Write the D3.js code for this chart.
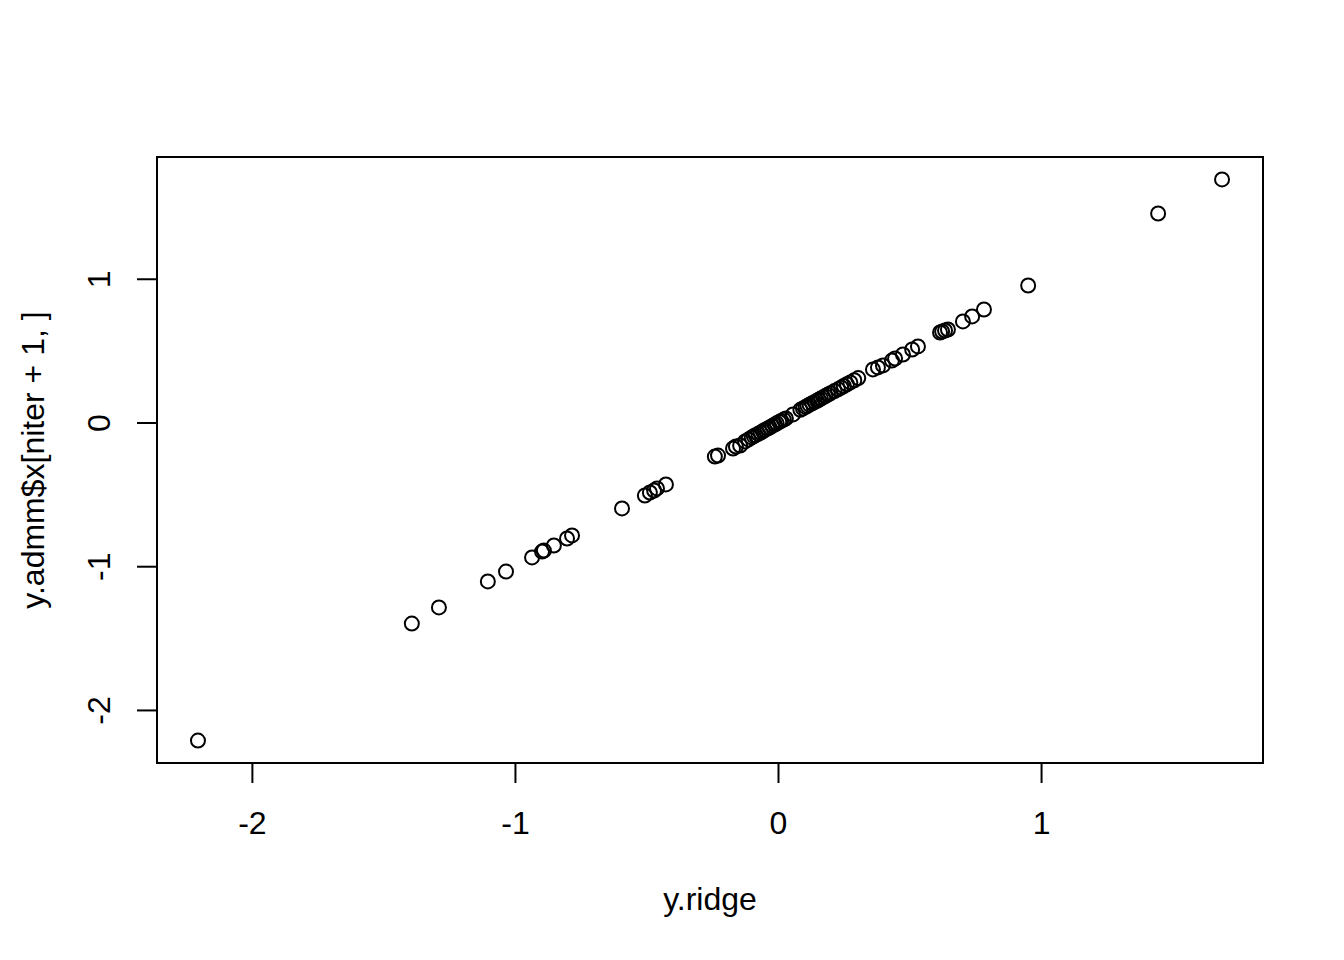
<!DOCTYPE html>
<html>
<head>
<meta charset="utf-8">
<script src="https://cdn.jsdelivr.net/npm/d3@7"></script>
<style>
  body { margin: 0; background: #fff; }
  text { font-family: "Liberation Sans", Arial, Helvetica, sans-serif; }
</style>
</head>
<body>
<div id="chart"></div>
<script>
// values (x = y.ridge, y = y.admm$x[niter + 1, ])
const y_ridge = [
  -2.205, -1.392, -1.289, -1.103, -1.034, -0.935, -0.897, -0.890, -0.852, -0.802,
  -0.783, -0.593, -0.506, -0.487, -0.471, -0.460, -0.426, -0.240, -0.228, -0.171,
  -0.160, -0.144, -0.125, -0.112, -0.100, -0.092, -0.085, -0.075, -0.066, -0.058,
  -0.050, -0.040, -0.032, -0.022, -0.012, -0.005, 0.005, 0.012, 0.022, 0.030,
  0.057, 0.085, 0.095, 0.105, 0.112, 0.120, 0.130, 0.140, 0.148, 0.155,
  0.163, 0.172, 0.180, 0.190, 0.200, 0.215, 0.228, 0.240, 0.250, 0.262,
  0.275, 0.290, 0.305, 0.361, 0.380, 0.399, 0.433, 0.445, 0.475, 0.510,
  0.532, 0.616, 0.624, 0.635, 0.646, 0.703, 0.738, 0.783, 0.951, 1.445,
  1.688
];
const y_admm = [
  -2.213, -1.399, -1.287, -1.106, -1.037, -0.939, -0.898, -0.891, -0.856, -0.807,
  -0.786, -0.598, -0.508, -0.487, -0.473, -0.459, -0.431, -0.237, -0.230, -0.181,
  -0.167, -0.160, -0.132, -0.118, -0.104, -0.095, -0.088, -0.079, -0.070, -0.061,
  -0.052, -0.043, -0.035, -0.024, -0.014, -0.006, 0.004, 0.011, 0.020, 0.028,
  0.056, 0.088, 0.098, 0.108, 0.115, 0.124, 0.134, 0.143, 0.151, 0.158,
  0.167, 0.176, 0.184, 0.194, 0.204, 0.219, 0.231, 0.243, 0.254, 0.266,
  0.279, 0.294, 0.309, 0.369, 0.383, 0.397, 0.431, 0.445, 0.473, 0.508,
  0.529, 0.626, 0.633, 0.640, 0.647, 0.703, 0.738, 0.786, 0.953, 1.454,
  1.691
];
const x_ticks = [-2, -1, 0, 1];
const y_ticks = [-2, -1, 0, 1];
const x_title = 'y.ridge';
const y_title = 'y.admm$x[niter + 1, ]';

const chart_width = 1344;
const chart_height = 960;
const margin = {top: 157, right: 81, bottom: 197, left: 157};
const font_size = 32;
const tick_len = 20;

const svg = d3.select('#chart')
    .append('svg')
    .attr('width', chart_width)
    .attr('height', chart_height);

// R style range: data extent padded by 4% each side
function pad(ext) {
    const d = (ext[1] - ext[0]) * 0.04;
    return [ext[0] - d, ext[1] + d];
}

const x_scale = d3.scaleLinear()
    .domain(pad(d3.extent(y_ridge)))
    .range([margin.left, chart_width - margin.right]);

const y_scale = d3.scaleLinear()
    .domain(pad(d3.extent(y_admm)))
    .range([chart_height - margin.bottom, margin.top]);

// x axis
const gx = svg.append('g')
    .attr('transform', `translate(0,${chart_height - margin.bottom})`)
    .call(d3.axisBottom(x_scale).tickValues(x_ticks).tickSize(tick_len).tickPadding(28).tickFormat(d3.format('d')));

// y axis
const gy = svg.append('g')
    .attr('transform', `translate(${margin.left},0)`)
    .call(d3.axisLeft(y_scale).tickValues(y_ticks).tickSize(tick_len).tickFormat(d3.format('d')));

[gx, gy].forEach(g => {
    g.select('.domain').remove();
    g.selectAll('line').attr('stroke', '#000').attr('stroke-width', 2);
    g.selectAll('text')
        .attr('font-size', font_size)
        .attr('font-family', '"Liberation Sans", Arial, sans-serif')
        .attr('fill', '#000');
});

gy.selectAll('text')
    .attr('transform', 'rotate(-90)')
    .attr('text-anchor', 'middle')
    .attr('x', 0)
    .attr('y', -47)
    .attr('dy', null);

// minus sign as plain hyphen like R
gx.selectAll('text').text(d => String(d));
gy.selectAll('text').text(d => String(d));

// plot box
svg.append('rect')
    .attr('x', margin.left)
    .attr('y', margin.top)
    .attr('width', chart_width - margin.left - margin.right)
    .attr('height', chart_height - margin.top - margin.bottom)
    .attr('fill', 'none')
    .attr('stroke', '#000')
    .attr('stroke-width', 2);

// points
svg.append('g')
    .selectAll('circle')
    .data(y_ridge)
    .enter()
    .append('circle')
    .attr('cx', d => x_scale(d))
    .attr('cy', (d, i) => y_scale(y_admm[i]))
    .attr('r', 7)
    .attr('fill', 'none')
    .attr('stroke', '#000')
    .attr('stroke-width', 2);

// axis titles
svg.append('text')
    .text(x_title)
    .attr('x', (margin.left + chart_width - margin.right) / 2)
    .attr('y', 910)
    .attr('text-anchor', 'middle')
    .attr('font-size', font_size)
    .attr('fill', '#000');

svg.append('text')
    .text(y_title)
    .attr('transform', `translate(44,${(margin.top + chart_height - margin.bottom) / 2}) rotate(-90)`)
    .attr('text-anchor', 'middle')
    .attr('font-size', font_size)
    .attr('fill', '#000');
</script>
</body>
</html>
